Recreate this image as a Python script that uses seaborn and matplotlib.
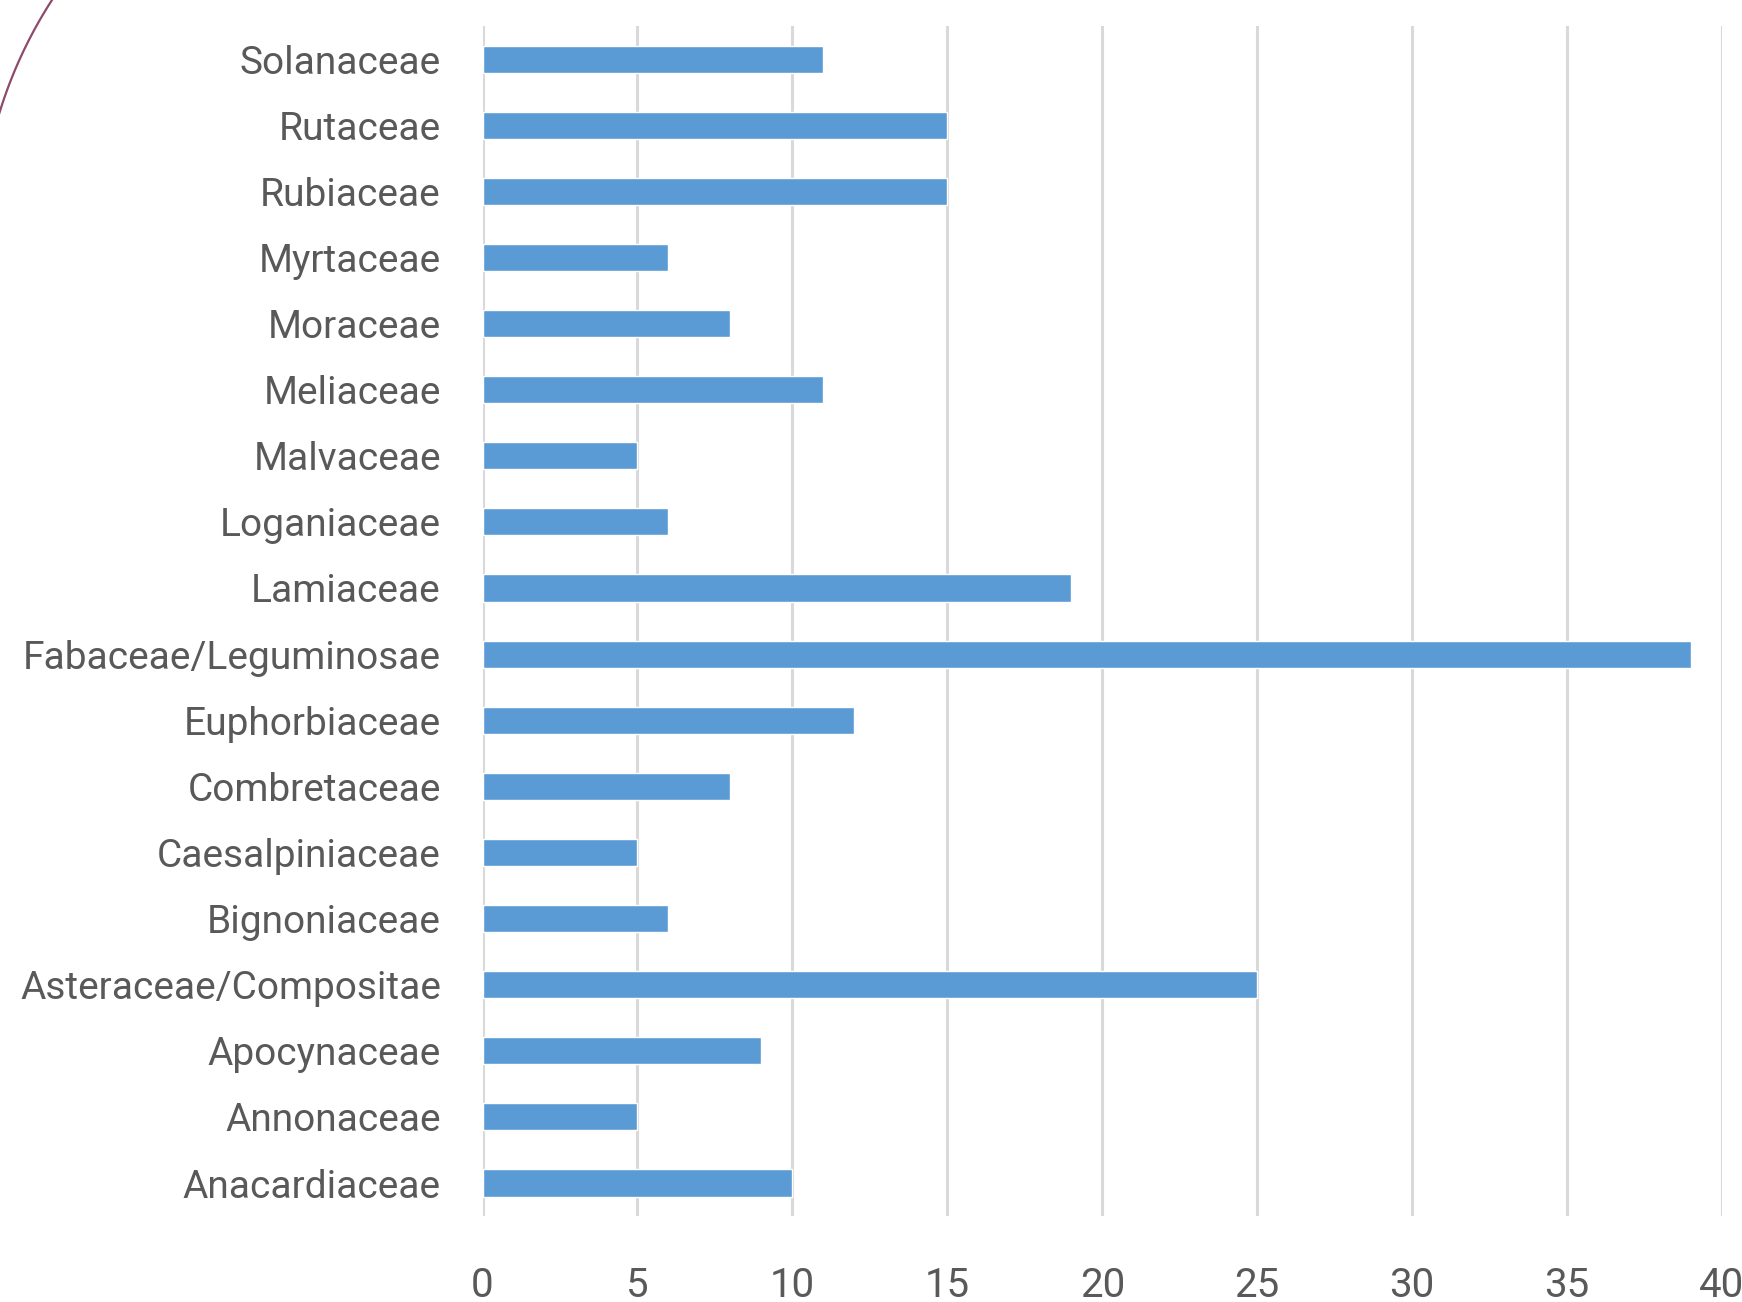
import numpy as np
import pandas as pd
import matplotlib.pyplot as plt
import seaborn as sns

sns.set_theme(style="white")
plt.rcParams['font.family'] = ['Roboto', 'DejaVu Sans']

# plant families, top to bottom as in the chart
families = ["Solanaceae", "Rutaceae", "Rubiaceae", "Myrtaceae", "Moraceae",
            "Meliaceae", "Malvaceae", "Loganiaceae", "Lamiaceae",
            "Fabaceae/Leguminosae", "Euphorbiaceae", "Combretaceae",
            "Caesalpiniaceae", "Bignoniaceae", "Asteraceae/Compositae",
            "Apocynaceae", "Annonaceae", "Anacardiaceae"]
counts = [11, 15, 15, 6, 8, 11, 5, 6, 19, 39, 12, 8, 5, 6, 25, 9, 5, 10]
xticks = [0, 5, 10, 15, 20, 25, 30, 35, 40]

df = pd.DataFrame({"family": families, "count": counts})

fig = plt.figure(figsize=(17.42, 13.02), dpi=100)
ax = fig.add_axes([0.277, 0.066, 0.7115, 0.914])

sns.barplot(data=df, x="count", y="family", order=families, color="#5B9BD5",
            saturation=1, width=0.41, orient="h", ax=ax, zorder=3)

ax.set_xlim(0, 40)
ax.set_ylim(len(families) - 0.5, -0.5)
ax.set_xticks(xticks)
ax.set_xlabel("")
ax.set_ylabel("")
ax.grid(axis="x", color="#D9D9D9", linewidth=2.2, zorder=0)
ax.grid(axis="y", visible=False)
for s in ax.spines.values():
    s.set_visible(False)
ax.tick_params(axis="y", length=0, pad=30, labelsize=28, labelcolor="#595959")
ax.tick_params(axis="x", length=0, pad=36, labelsize=29, labelcolor="#595959")

# decorative arc in the top-left corner (slide background)
W, H = 1742, 1302
p = np.array([[52, 0], [24, 50], [0, 111]], dtype=float)
A = np.array([[2 * (p[1, 0] - p[0, 0]), 2 * (p[1, 1] - p[0, 1])],
              [2 * (p[2, 0] - p[0, 0]), 2 * (p[2, 1] - p[0, 1])]])
b = np.array([p[1] @ p[1] - p[0] @ p[0], p[2] @ p[2] - p[0] @ p[0]])
c = np.linalg.solve(A, b)
r = np.hypot(*(p[0] - c))
a0 = np.arctan2(p[0, 1] - c[1], p[0, 0] - c[0])
a1 = np.arctan2(p[2, 1] - c[1], p[2, 0] - c[0])
d = np.sign(a1 - a0) * 0.05
t = np.linspace(a0 - d, a1 + d, 100)
xs = (c[0] + r * np.cos(t)) / W
ys = 1 - (c[1] + r * np.sin(t)) / H
fig.add_artist(plt.Line2D(xs, ys, color="#8E4A6B", linewidth=1.6,
                          transform=fig.transFigure))

fig.savefig("out.png", dpi=100)
